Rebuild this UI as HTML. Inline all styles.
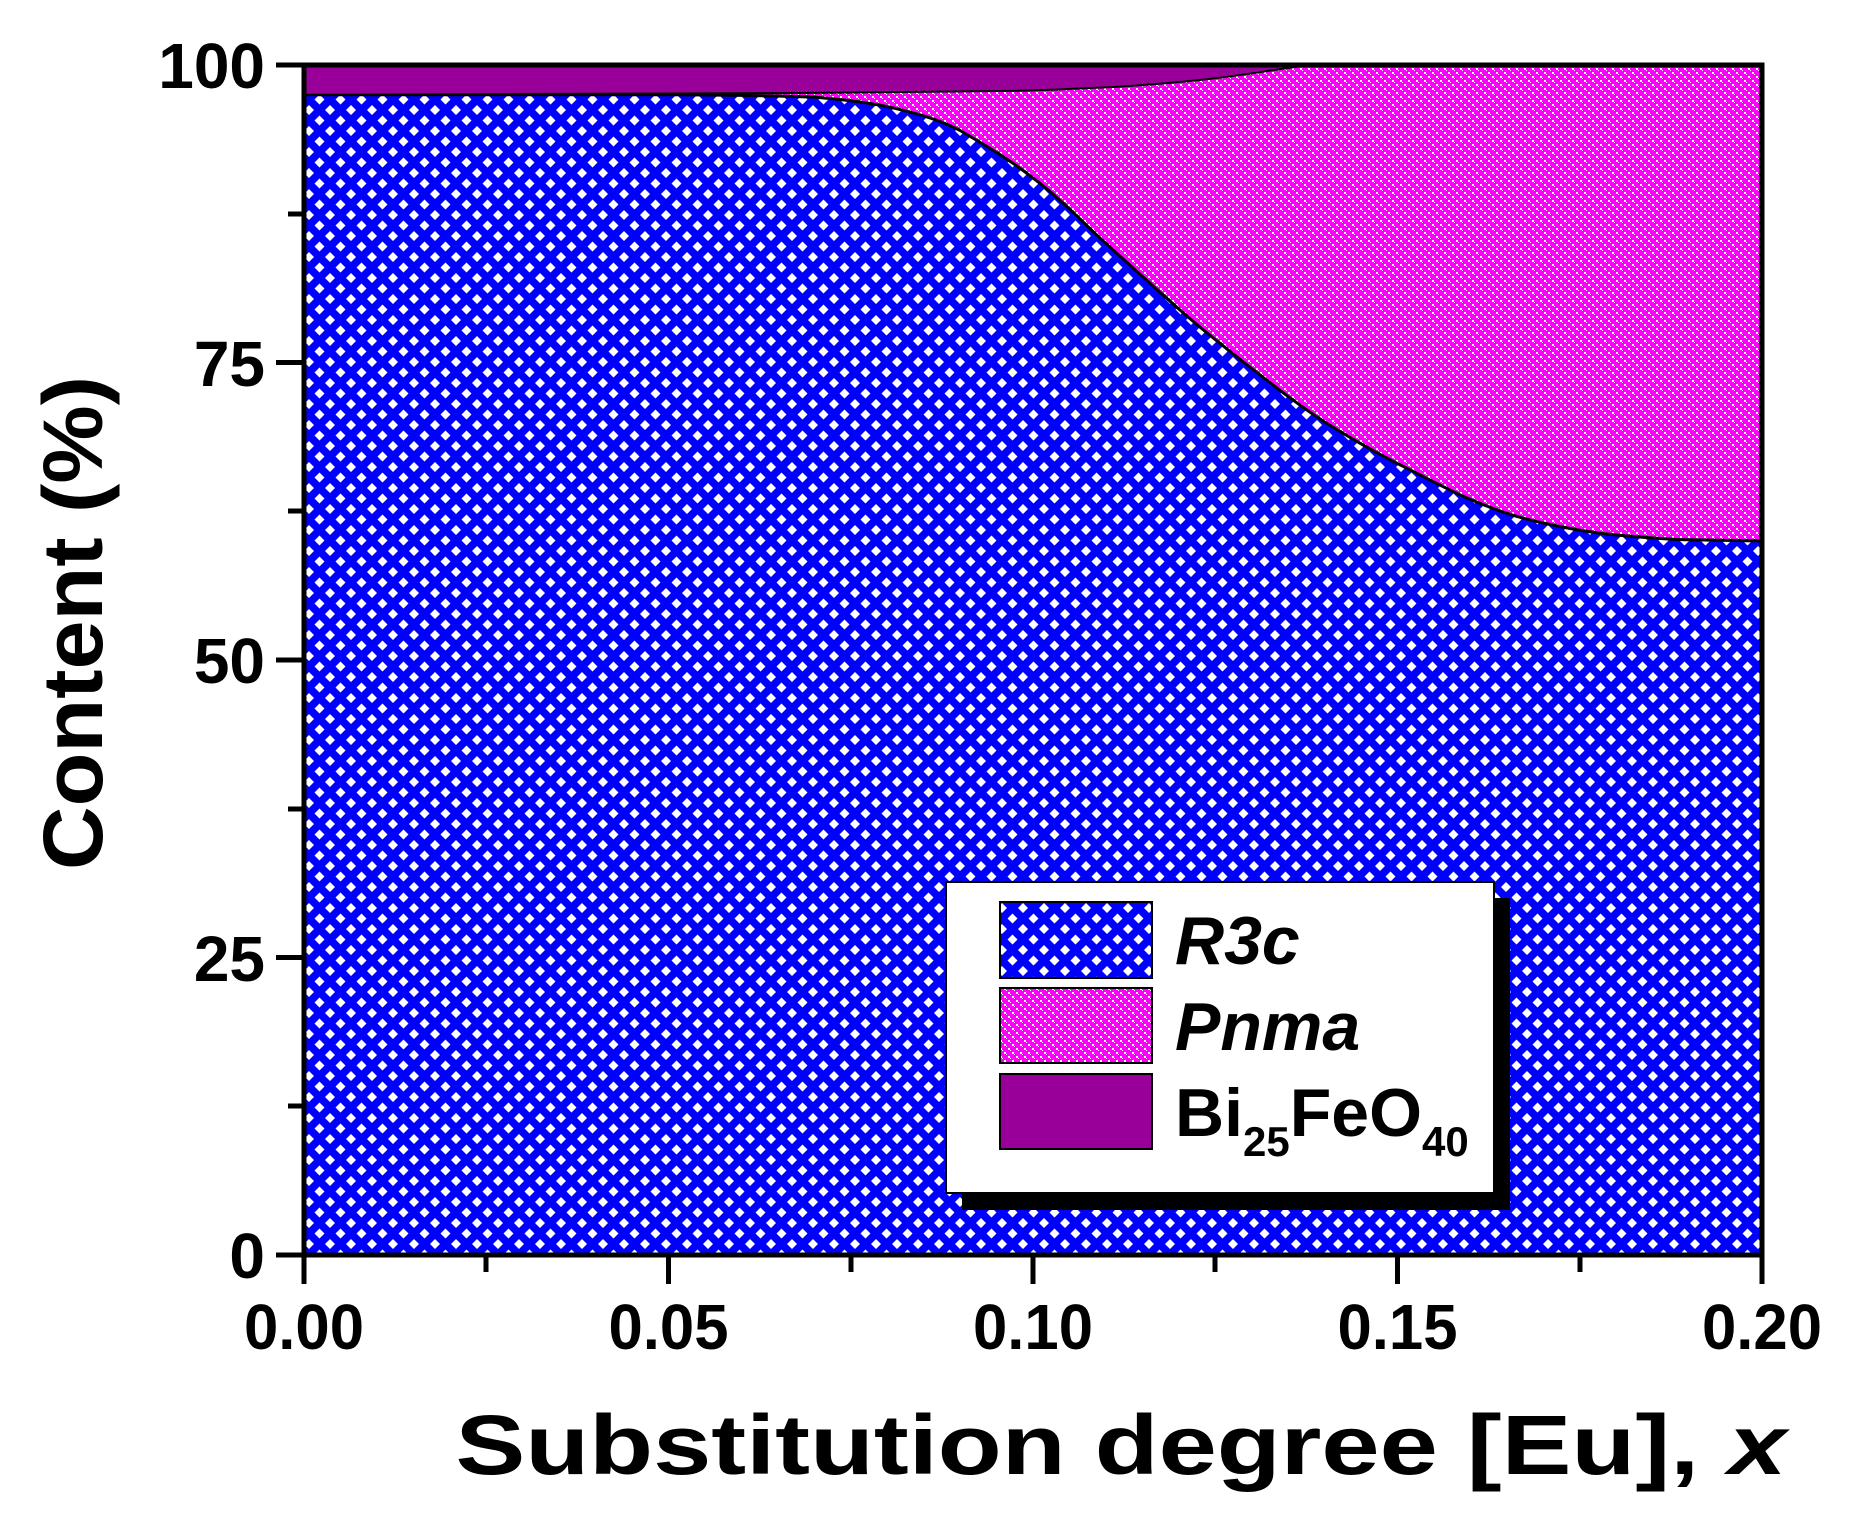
<!DOCTYPE html>
<html><head><meta charset="utf-8"><style>
html,body{margin:0;padding:0;background:#fff;}
svg{display:block;}
text{font-family:"Liberation Sans",Arial,sans-serif;font-weight:bold;fill:#000;}
</style></head><body>
<svg width="1856" height="1522" viewBox="0 0 1856 1522" xmlns="http://www.w3.org/2000/svg">
<defs>
<pattern id="blue" width="21" height="21" patternUnits="userSpaceOnUse" x="304" y="0">
<rect width="21" height="21" fill="#0000ff"/>
<path d="M5,0 L10,5 L5,10 L0,5Z M15.5,10.5 L20.5,15.5 L15.5,20.5 L10.5,15.5Z" fill="#fff"/>
</pattern>
<pattern id="pink" width="8" height="8" patternUnits="userSpaceOnUse">
<rect width="8" height="8" fill="#ff00ff"/>
<rect x="0" y="0" width="2" height="2" fill="#fff"/>
<rect x="4" y="4" width="2" height="2" fill="#fff"/>
<rect x="2" y="2" width="1" height="1" fill="#fff"/>
<rect x="6" y="6" width="1" height="1" fill="#fff"/>
</pattern>
</defs>
<rect x="304" y="65" width="1458" height="480" fill="url(#pink)"/>
<path d="M304,1255 L304,94.75 L668.5,94.75 C740,95 780,96 814.3,97.1 C850,100 870,103 887.2,106.6 C920,114 940,120 960.1,130.5 C990,148 1010,160 1033,178 C1060,198 1080,220 1105.9,243.5 C1130,265 1155,288 1178.8,309 C1205,332 1228,350 1251.7,368.5 C1278,389 1300,406 1324.6,422 C1350,438 1375,452 1397.5,463.6 C1425,477 1448,490 1470.4,499.4 C1500,512 1520,518 1543.3,523 C1570,529 1595,533 1616.2,535 C1650,538 1670,539.5 1689.1,539.8 L1762,541 L1762,1255 Z" fill="url(#blue)" stroke="#000" stroke-width="3"/>
<path d="M304,65 L1310,65 C1270,70 1240,76 1200,80 C1150,85 1120,87 1090,88 C1050,90 1020,91 1000,91 C900,92 850,93 800,93 C600,94 450,94.75 304,94.75 Z" fill="#990099" stroke="#000" stroke-width="2"/>
<rect x="304" y="65" width="1458" height="1190" fill="none" stroke="#000" stroke-width="5"/>
<g stroke="#000" stroke-width="5">
<line x1="304" y1="1255" x2="304" y2="1284"/>
<line x1="668.5" y1="1255" x2="668.5" y2="1284"/>
<line x1="1033" y1="1255" x2="1033" y2="1284"/>
<line x1="1397.5" y1="1255" x2="1397.5" y2="1284"/>
<line x1="1762" y1="1255" x2="1762" y2="1284"/>
<line x1="486" y1="1255" x2="486" y2="1272"/>
<line x1="851" y1="1255" x2="851" y2="1272"/>
<line x1="1215" y1="1255" x2="1215" y2="1272"/>
<line x1="1580" y1="1255" x2="1580" y2="1272"/>
<line x1="276" y1="1255" x2="304" y2="1255"/>
<line x1="276" y1="957.5" x2="304" y2="957.5"/>
<line x1="276" y1="660" x2="304" y2="660"/>
<line x1="276" y1="362.5" x2="304" y2="362.5"/>
<line x1="276" y1="65" x2="304" y2="65"/>
<line x1="288" y1="1106" x2="304" y2="1106"/>
<line x1="288" y1="809" x2="304" y2="809"/>
<line x1="288" y1="511" x2="304" y2="511"/>
<line x1="288" y1="214" x2="304" y2="214"/>
</g>
<g font-size="64" text-anchor="middle">
<text x="304" y="1349" textLength="120" lengthAdjust="spacingAndGlyphs">0.00</text>
<text x="668.5" y="1349" textLength="120" lengthAdjust="spacingAndGlyphs">0.05</text>
<text x="1033" y="1349" textLength="120" lengthAdjust="spacingAndGlyphs">0.10</text>
<text x="1397.5" y="1349" textLength="120" lengthAdjust="spacingAndGlyphs">0.15</text>
<text x="1762" y="1349" textLength="120" lengthAdjust="spacingAndGlyphs">0.20</text>
</g>
<g font-size="64" text-anchor="end">
<text x="265" y="1278">0</text>
<text x="265" y="981">25</text>
<text x="265" y="683">50</text>
<text x="265" y="386">75</text>
<text x="265" y="88">100</text>
</g>
<text x="1121" y="1474" font-size="84" text-anchor="middle" textLength="1331" lengthAdjust="spacingAndGlyphs">Substitution degree [Eu], <tspan font-style="italic">x</tspan></text>
<text transform="translate(102,623) rotate(-90)" font-size="84" text-anchor="middle" textLength="494" lengthAdjust="spacingAndGlyphs">Content (%)</text>
<rect x="962" y="898" width="548" height="312" fill="#000"/>
<rect x="946" y="882" width="548" height="311" fill="#fff" stroke="#000" stroke-width="2"/>
<rect x="1000" y="902" width="152" height="76" fill="url(#blue)" stroke="#000" stroke-width="2"/>
<rect x="1000" y="988" width="152" height="75" fill="url(#pink)" stroke="#000" stroke-width="2"/>
<rect x="1000" y="1074" width="152" height="75" fill="#990099" stroke="#000" stroke-width="2"/>
<g font-size="68">
<text x="1175" y="964" font-style="italic">R3c</text>
<text x="1175" y="1050" font-style="italic">Pnma</text>
<text x="1175" y="1136">Bi<tspan font-size="42" dy="20">25</tspan><tspan dy="-20">FeO</tspan><tspan font-size="42" dy="20">40</tspan></text>
</g>
</svg>
</body></html>
